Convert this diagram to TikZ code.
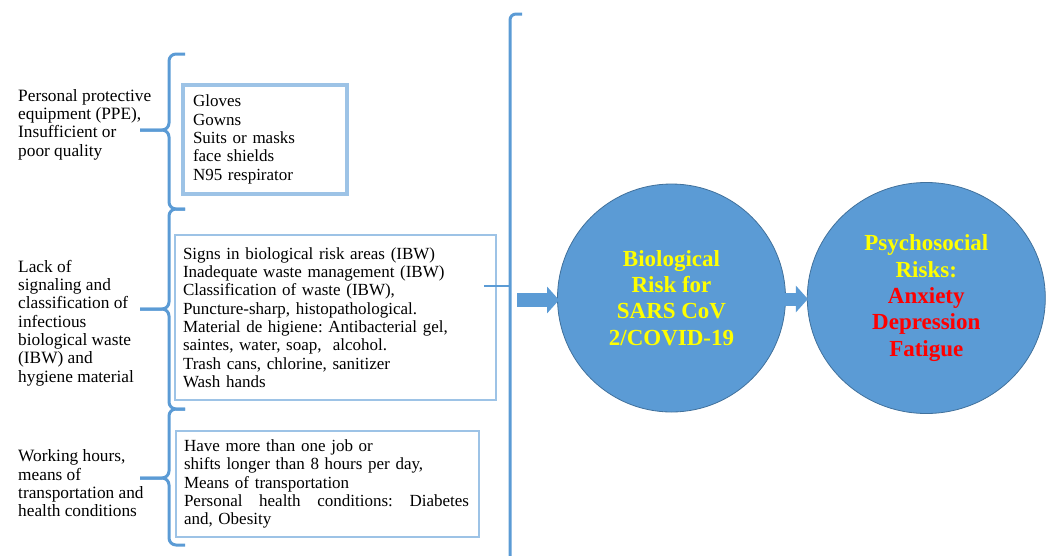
\documentclass[tikz,border=0pt]{standalone}
\usepackage{fontspec}
\setmainfont{Liberation Serif}
\usetikzlibrary{positioning,shapes.geometric,arrows.meta}
\definecolor{riskblue}{RGB}{91,155,213}
\definecolor{riskedge}{RGB}{65,113,156}
\definecolor{boxblue}{RGB}{157,195,230}
\definecolor{txtyellow}{RGB}{255,255,0}
\definecolor{txtred}{RGB}{255,0,0}
\frenchspacing
\tikzset{
	cause/.style={anchor=west, align=left, inner sep=0pt, font=\fontsize{17.3}{18.3}\selectfont},
	itembox/.style={draw=boxblue, line width=2.5pt, align=left, inner ysep=0pt, font=\fontsize{17}{18.3}\selectfont},
	curly/.style={draw=riskblue, line width=3pt, rounded corners=7pt},
	risk/.style={ellipse, fill=riskblue, draw=riskedge, line width=0.8pt, align=center, text=txtyellow, font=\fontsize{23}{26.3}\selectfont\bfseries},
	fatarrow/.style={draw=riskblue, line width=14pt, -{Triangle[width=26pt,length=12pt]}}
}
\begin{document}
\begin{tikzpicture}[x=1pt,y=-1pt]
	\useasboundingbox (0,0) rectangle (1052,555);

	% causes
	\node(ppe) [cause] at (18,124.5) {Personal protective\\equipment (PPE),\\Insufficient or\\poor quality};
	\node(ibw) [cause] at (18,323) {Lack of\\signaling and\\classification of\\infectious\\biological waste\\(IBW) and\\hygiene material};
	\node(work) [cause] at (18,483.5) {Working hours,\\means of\\transportation and\\health conditions};

	% item boxes
	\node(boxppe) [itembox, line width=4pt, text width=144pt, inner xsep=10pt, minimum height=109pt] at (265,139.5)
		{Gloves\\Gowns\\Suits or masks\\face shields\\N95 respirator};
	\node(boxibw) [itembox, text width=305pt, inner xsep=8pt, minimum height=165pt] at (335.5,317.5)
		{Signs in biological risk areas (IBW)\\Inadequate waste management (IBW)\\Classification of waste (IBW),\\Puncture-sharp, histopathological.\\Material de higiene: Antibacterial gel,\\saintes, water, soap,\ \ alcohol.\\Trash cans, chlorine, sanitizer\\Wash hands};
	\node(boxwork) [itembox, text width=287pt, inner xsep=8pt, minimum height=106pt] at (327.5,484)
		{Have more than one job or\\shifts longer than 8 hours per day,\\Means of transportation\\\makebox[285pt][s]{Personal\hfill health\hfill conditions:\hfill Diabetes}\\and, Obesity};

	% braces
	\foreach \t/\m/\b in {54/130/209, 209/309/409, 409/478/545} {
		\draw[curly] (185,\t) -- (169,\t) -- (169,\m) -- (140,\m);
		\draw[curly] (140,\m) -- (169,\m) -- (169,\b) -- (185,\b);
	}
	\draw[curly, rounded corners=6pt] (522,14) -- (510,14) -- (510,560);
	\coordinate(bigtip) at (484,286);
	\draw[curly, line width=1.5pt, rounded corners=3pt] (bigtip) -- (510,286);

	% risks
	\node(bio) [risk, minimum width=228pt, minimum height=228pt] at (671.5,298)
		{Biological\\Risk for\\SARS CoV\\2/COVID-19};
	\node(psy) [risk, minimum width=238pt, minimum height=231pt, right = 21pt of bio]
		{Psychosocial\\Risks:\\\textcolor{txtred}{Anxiety}\\\textcolor{txtred}{Depression}\\\textcolor{txtred}{Fatigue}};

	\coordinate(a1) at (517,300);
	\coordinate(a2) at (780,299);
	\draw[fatarrow] (a1) -- ([xshift=2pt]a1 -| bio.west);
	\draw[fatarrow, line width=13pt] (a2) -- ([xshift=1pt]a2 -| psy.west);
\end{tikzpicture}
\end{document}
